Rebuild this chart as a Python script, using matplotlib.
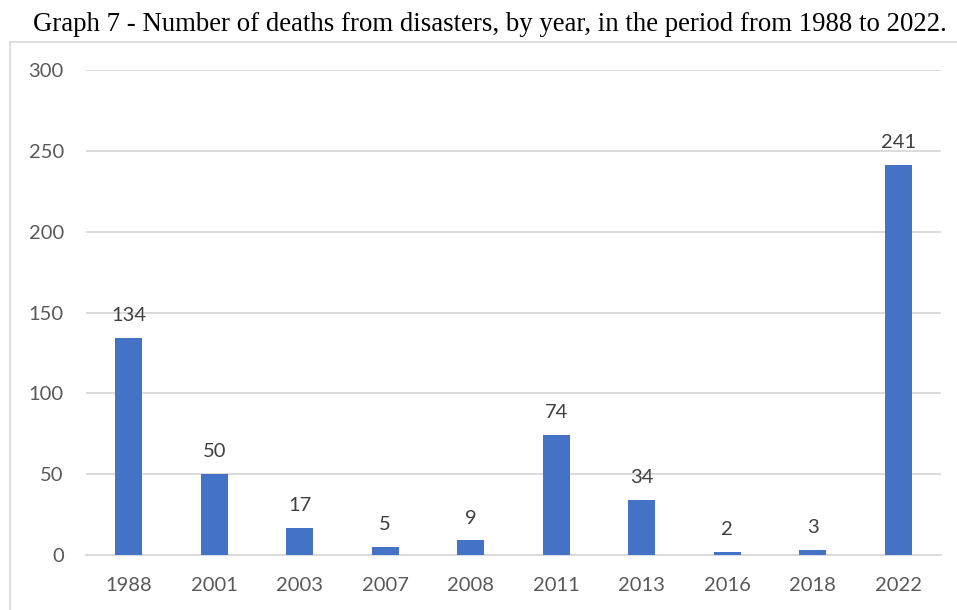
import matplotlib.pyplot as plt
from matplotlib.lines import Line2D

YEARS = ["1988", "2001", "2003", "2007", "2008", "2011", "2013", "2016", "2018", "2022"]
DEATHS = [134, 50, 17, 5, 9, 74, 34, 2, 3, 241]
YTICKS = [0, 50, 100, 150, 200, 250, 300]

W, H = 957, 610
fig = plt.figure(figsize=(W / 100, H / 100), dpi=100)

# chart frame (left and top edges only show)
fig.add_artist(Line2D([9.5 / W, 9.5 / W], [0, 1 - 41.5 / H], color="#D9D9D9", lw=1.2))
fig.add_artist(Line2D([9.5 / W, 1], [1 - 41.5 / H, 1 - 41.5 / H], color="#D9D9D9", lw=1.2))

fig.text(490 / W, 1 - 31 / H, "Graph 7 - Number of deaths from disasters, by year, in the period from 1988 to 2022.",
         ha="center", va="baseline", fontsize=19.3, family="Liberation Serif", color="black")

ax = fig.add_axes([86 / W, 55 / H, (941 - 86) / W, (555 - 70) / H])
x = range(len(YEARS))
bars = ax.bar(x, DEATHS, width=0.315, color="#4472C4", zorder=3)

for xi, v in zip(x, DEATHS):
    ax.annotate(str(v), (xi, v), xytext=(0, 10), textcoords="offset points",
                ha="center", va="bottom", fontsize=14.5, family="Lato", color="#404040")

ax.set_xlim(-0.5, len(YEARS) - 0.5)
ax.set_ylim(0, 300)
ax.set_yticks(YTICKS)
ax.set_xticks(list(x))
ax.set_xticklabels(YEARS)
ax.grid(axis="y", color="#D9D9D9", lw=1.3, zorder=0)
for s in ["top", "right", "left"]:
    ax.spines[s].set_visible(False)
ax.spines["bottom"].set_color("#D9D9D9")
ax.spines["bottom"].set_linewidth(1.3)
ax.tick_params(axis="both", length=0, labelsize=14.5, colors="#595959")
ax.tick_params(axis="y", pad=16)
ax.tick_params(axis="x", pad=16)
for lbl in ax.get_xticklabels() + ax.get_yticklabels():
    lbl.set_family("Lato")

fig.savefig("out.png", dpi=100)
